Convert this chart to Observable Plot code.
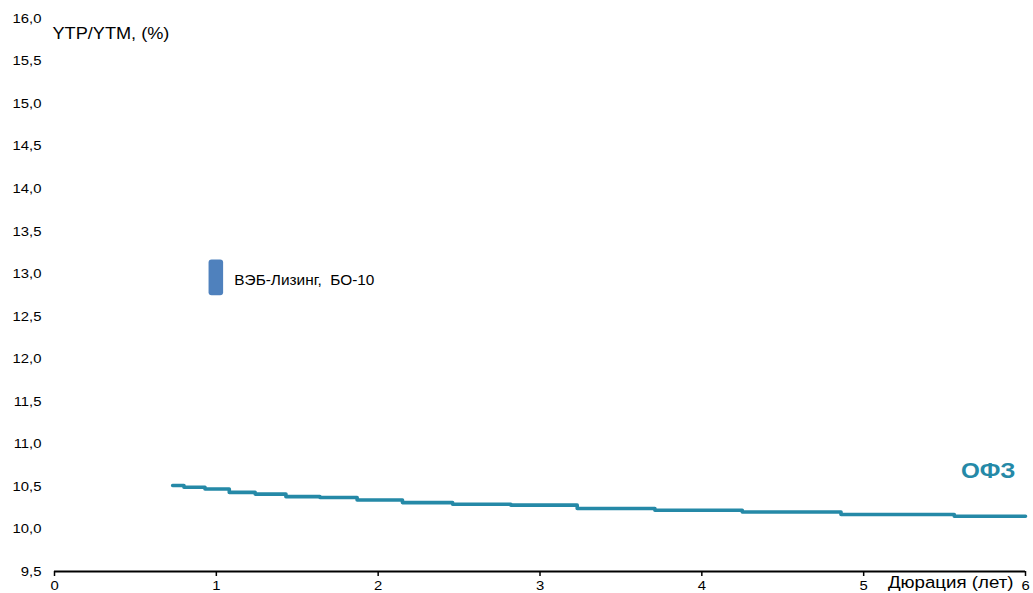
<!DOCTYPE html>
<html>
<head>
<meta charset="utf-8">
<script src="https://cdn.jsdelivr.net/npm/d3@7"></script>
<script src="https://cdn.jsdelivr.net/npm/@observablehq/plot@0.6"></script>
<style>
  html, body { margin: 0; padding: 0; background: #fff; }
  #chart { width: 1033px; height: 593px; }
</style>
</head>
<body>
<div id="chart"></div>
<script>
// OFZ curve (step segments): start duration and yield
const ofzDuration = [0.73, 0.80, 0.93, 1.08, 1.24, 1.43, 1.64, 1.87, 2.15, 2.46, 2.82, 3.23, 3.71, 4.25, 4.86, 5.56, 6.00];
const ofzYield    = [10.51, 10.49, 10.47, 10.43, 10.41, 10.38, 10.37, 10.34, 10.31, 10.29, 10.28, 10.24, 10.22, 10.20, 10.17, 10.15, 10.15];

// Bond point
const bondNames = ["ВЭБ-Лизинг,\u00a0 БО-10"];
const bondDuration = [1.0];
const bondYield = [12.95];

const yTicks = [9.5, 10, 10.5, 11, 11.5, 12, 12.5, 13, 13.5, 14, 14.5, 15, 15.5, 16];
const xTicks = [0, 1, 2, 3, 4, 5, 6];

const ofz = ofzDuration.map((d, i) => ({x: d, y: ofzYield[i]}));
const bonds = bondNames.map((n, i) => ({name: n, x: bondDuration[i], y: bondYield[i]}));
const lastOfz = ofz[ofz.length - 1];

const teal = "#2589a7";
const font = "'Liberation Sans', Arial, sans-serif";

const chart = Plot.plot({
  width: 1033,
  height: 593,
  marginLeft: 54,
  marginRight: 8,
  marginTop: 18,
  marginBottom: 22,
  style: {fontFamily: font, fontSize: "13px", color: "#000", background: "#fff"},
  x: {domain: [0, 6], ticks: xTicks},
  y: {domain: [9.5, 16], ticks: yTicks},
  marks: [
    Plot.axisY({ticks: yTicks, tickSize: 0, tickPadding: 13, label: null,
      tickFormat: d => d.toFixed(1).replace(".", ","), fontSize: 13.5}),
    Plot.axisX({ticks: xTicks, tickSize: 5, tickPadding: 4, label: null, fontSize: 13.5,
      tickFormat: d => String(d), stroke: "#000", strokeWidth: 1.5}),
    Plot.ruleY([9.5], {stroke: "#000", strokeWidth: 2.2}),
    Plot.line(ofz, {x: "x", y: "y", curve: "step-after", stroke: teal, strokeWidth: 3.6}),
    Plot.rect(bonds, {
      x1: d => d.x - 0.045, x2: d => d.x + 0.045,
      y1: d => d.y - 0.21, y2: d => d.y + 0.21,
      fill: "#4f81bd", rx: 3
    }),
    Plot.text(bonds, {x: "x", y: "y", text: "name", dx: 18, dy: 3, textAnchor: "start", fontSize: 14, fill: "#000"}),
    Plot.text([lastOfz], {x: "x", y: "y", text: () => "ОФЗ", dx: -10, dy: -45, textAnchor: "end",
      fontSize: 22, fontWeight: "bold", fill: teal}),
    Plot.text(["YTP/YTM, (%)"], {frameAnchor: "top-left", lineAnchor: "middle", dx: -2, dy: 15, textAnchor: "start", fontSize: 16.5, fill: "#000"}),
    Plot.text(["Дюрация (лет)"], {frameAnchor: "bottom-right", lineAnchor: "middle", dx: -12, dy: 11, textAnchor: "end", fontSize: 17, fill: "#000"})
  ]
});
// horizontally widen glyphs (reference text is stretched), keeping each anchor in place
chart.querySelectorAll("text").forEach(t => {
  const x = parseFloat(t.getAttribute("x")) || 0;
  const prev = t.getAttribute("transform") || "";
  t.setAttribute("transform", `${prev} translate(${x},0) scale(1.1,1) translate(${-x},0)`);
});
document.getElementById("chart").appendChild(chart);
</script>
</body>
</html>
